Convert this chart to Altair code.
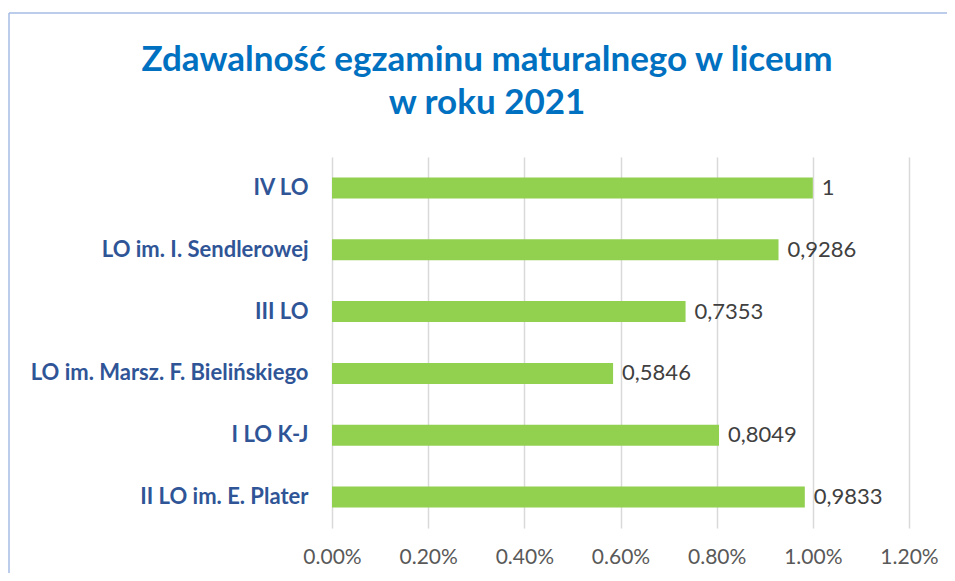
import altair as alt
import pandas as pd

schools = ["IV LO", "LO im. I. Sendlerowej", "III LO", "LO im. Marsz. F. Bielińskiego", "I LO K-J", "II LO im. E. Plater"]
values = [1, 0.9286, 0.7353, 0.5846, 0.8049, 0.9833]
labels = ["1", "0,9286", "0,7353", "0,5846", "0,8049", "0,9833"]
x_ticks = [0, 0.2, 0.4, 0.6, 0.8, 1.0, 1.2]
title_lines = ["Zdawalność egzaminu maturalnego w liceum", "w roku 2021"]

df = pd.DataFrame({"school": schools, "value": values, "label": labels})
one = pd.DataFrame({"k": [0]})

W, H = 577, 371
PL, PT, PR, PB = 324, 149, 38, 45
FONT = "Lato"

y_enc = alt.Y("school:N", sort=schools, title=None,
              scale=alt.Scale(paddingInner=0.66, paddingOuter=0.33),
              axis=alt.Axis(labelFont=FONT, labelFontWeight="bold", labelFontSize=22,
                            labelColor="#2F5597", labelPadding=24, labelLimit=400,
                            ticks=False, domain=False, grid=False))
x_enc = alt.X("value:Q", title=None,
              scale=alt.Scale(domain=[0, 1.2], nice=False),
              axis=alt.Axis(values=x_ticks, labelExpr="format(datum.value, '.2f') + '%'",
                            labelFont=FONT, labelFontSize=21, labelColor="#595959",
                            labelPadding=18, labelFlush=False, ticks=False, domain=False,
                            grid=True, gridColor="#D9D9D9", gridWidth=1.5))

bars = alt.Chart(df).mark_bar(color="#92D050").encode(x=x_enc, y=y_enc)
text = alt.Chart(df).mark_text(align="left", baseline="middle", dx=9, font=FONT,
                               fontSize=22, color="#404040").encode(
    x="value:Q", y=alt.Y("school:N", sort=schools), text="label:N")

frame_left = alt.Chart(one).mark_rule(color="#A4BCE3", strokeWidth=1.5).encode(
    x=alt.value(-323), y=alt.value(-144), y2=alt.value(H + PB))
frame_top = alt.Chart(one).mark_rule(color="#A4BCE3", strokeWidth=1.5).encode(
    x=alt.value(-323), x2=alt.value(W + PR), y=alt.value(-144))

title1 = alt.Chart(one).mark_text(font=FONT, fontSize=35, fontWeight="bold", color="#0070C0",
                                  align="center", baseline="middle").encode(
    x=alt.value(155), y=alt.value(-97), text=alt.value(title_lines[0]))
title2 = alt.Chart(one).mark_text(font=FONT, fontSize=35, fontWeight="bold", color="#0070C0",
                                  align="center", baseline="middle").encode(
    x=alt.value(155), y=alt.value(-54), text=alt.value(title_lines[1]))

chart = alt.layer(frame_left, frame_top, bars, text, title1, title2).properties(
    width=W, height=H,
    autosize=alt.AutoSizeParams(type="none"),
    padding={"left": PL, "top": PT, "right": PR, "bottom": PB},
).configure_view(stroke=None)

chart.save("out.html", embed_options={"renderer": "svg", "actions": False})
